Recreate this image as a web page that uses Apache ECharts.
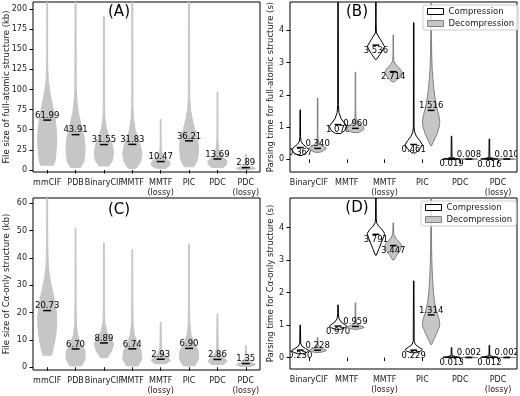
<!DOCTYPE html>
<html>
<head>
<meta charset="utf-8">
<script src="https://cdn.jsdelivr.net/npm/echarts@6/dist/echarts.min.js"></script>
<style>
  html, body { margin: 0; background: #fff; }
  #chart { width: 520px; height: 396px; }
</style>
</head>
<body>
<div id="chart"></div>
<script>
// categories
const sizeCats = ['mmCIF', 'PDB', 'BinaryCIF', 'MMTF', 'MMTF\n(lossy)', 'PIC', 'PDC', 'PDC\n(lossy)'];
const timeCats = ['BinaryCIF', 'MMTF', 'MMTF\n(lossy)', 'PIC', 'PDC', 'PDC\n(lossy)'];

// medians
const medianFull = [61.99, 43.91, 31.55, 31.83, 10.47, 36.21, 13.69, 2.89];
const medianCa = [20.73, 6.70, 8.89, 6.74, 2.93, 6.90, 2.86, 1.35];
const compFull = [0.367, 1.076, 3.536, 0.461, 0.019, 0.016];
const decompFull = [0.340, 0.960, 2.714, 1.516, 0.008, 0.010];
const compCa = [0.230, 0.970, 3.791, 0.229, 0.013, 0.012];
const decompCa = [0.228, 0.959, 3.447, 1.314, 0.002, 0.002];

// violin outlines: [value, relative half width]
const shapeFull = [
  [[6, 0.65], [10, 0.8], [20, 0.9], [35, 1], [50, 0.95], [65, 0.8], [80, 0.55], [95, 0.3], [110, 0.12], [130, 0.05], [210, 0.04]],
  [[3, 0.5], [10, 0.85], [25, 1], [40, 0.9], [55, 0.6], [70, 0.3], [85, 0.15], [100, 0.07], [210, 0.05]],
  [[5, 0.5], [12, 0.9], [22, 1], [32, 0.85], [42, 0.5], [52, 0.25], [65, 0.1], [80, 0.06], [191, 0.04]],
  [[2, 0.4], [10, 0.85], [20, 1], [30, 0.85], [40, 0.55], [50, 0.3], [65, 0.12], [80, 0.06], [210, 0.05]],
  [[2, 0.5], [5, 0.9], [9, 1], [13, 0.7], [17, 0.3], [22, 0.1], [30, 0.05], [63, 0.04]],
  [[4, 0.5], [12, 0.85], [25, 1], [38, 0.9], [50, 0.6], [62, 0.35], [75, 0.15], [90, 0.07], [210, 0.05]],
  [[3, 0.6], [7, 0.95], [11, 1], [16, 0.6], [21, 0.25], [28, 0.1], [40, 0.05], [97, 0.04]],
  [[0.5, 0.7], [2, 1], [3.5, 0.7], [5, 0.25], [7, 0.08], [19.5, 0.05]]
];
const shapeCa = [
  [[4.4, 0.45], [8, 0.7], [12, 0.9], [17, 1], [22, 0.9], [27, 0.6], [32, 0.3], [37, 0.12], [45, 0.06], [62, 0.04]],
  [[0.5, 0.6], [3, 1], [6, 0.95], [9, 0.5], [12, 0.2], [16, 0.08], [25, 0.05], [51, 0.04]],
  [[3.5, 0.35], [6, 0.8], [8.5, 1], [11, 0.7], [13, 0.3], [16, 0.1], [22, 0.05], [45.5, 0.04]],
  [[0.5, 0.6], [3, 1], [6, 0.9], [9, 0.5], [12, 0.2], [16, 0.08], [25, 0.05], [43, 0.04]],
  [[1.3, 0.6], [2.5, 1], [3.8, 0.7], [5, 0.25], [7, 0.08], [16.5, 0.04]],
  [[0.5, 0.6], [3, 1], [6, 0.95], [9, 0.5], [12, 0.2], [16, 0.08], [25, 0.05], [45, 0.04]],
  [[1, 0.6], [2.2, 1], [3.5, 0.7], [5, 0.25], [7, 0.08], [19.5, 0.04]],
  [[0.3, 0.6], [1, 1], [1.8, 0.6], [2.6, 0.2], [3.5, 0.06], [8, 0.04]]
];
const shapeCompFull = [
  [[0.12, 0.2], [0.2, 0.7], [0.3, 1], [0.38, 0.7], [0.47, 0.3], [0.56, 0.1], [0.7, 0.04], [1.53, 0.03]],
  [[0.8, 0.3], [0.9, 0.8], [1.02, 1], [1.12, 0.75], [1.26, 0.35], [1.45, 0.1], [1.7, 0.04], [4.9, 0.03]],
  [[3.09, 0.05], [3.28, 0.55], [3.49, 1], [3.7, 0.55], [3.91, 0.06], [4.2, 0.03], [4.9, 0.03]],
  [[0.2, 0.2], [0.33, 0.7], [0.45, 1], [0.58, 0.7], [0.72, 0.3], [0.85, 0.1], [1.0, 0.04], [4.23, 0.03]],
  [[0, 0.3], [0.01, 1], [0.03, 0.5], [0.06, 0.05], [0.72, 0.03]],
  [[0, 0.3], [0.01, 1], [0.03, 0.5], [0.06, 0.05], [0.63, 0.03]]
];
const shapeDecompFull = [
  [[0.22, 0.3], [0.3, 0.9], [0.35, 1], [0.42, 0.6], [0.5, 0.2], [0.6, 0.06], [0.8, 0.03], [1.9, 0.03]],
  [[0.83, 0.3], [0.9, 0.85], [0.97, 1], [1.05, 0.7], [1.15, 0.25], [1.3, 0.06], [1.6, 0.03], [2.7, 0.03]],
  [[2.4, 0.15], [2.55, 0.7], [2.7, 1], [2.82, 0.7], [2.95, 0.25], [3.05, 0.06], [3.3, 0.03], [3.85, 0.03]],
  [[0.42, 0.05], [0.6, 0.35], [0.8, 0.7], [1.0, 0.92], [1.15, 1], [1.35, 0.9], [1.6, 0.65], [1.9, 0.45], [2.2, 0.3], [2.5, 0.2], [2.8, 0.12], [3.2, 0.07], [3.8, 0.04], [4.9, 0.03]],
  [[0, 0.5], [0.008, 1], [0.02, 0.3], [0.04, 0.03]],
  [[0, 0.5], [0.01, 1], [0.02, 0.3], [0.04, 0.03]]
];
const shapeCompCa = [
  [[0.12, 0.3], [0.17, 0.8], [0.22, 1], [0.28, 0.6], [0.35, 0.2], [0.45, 0.05], [1.0, 0.03]],
  [[0.87, 0.3], [0.92, 0.8], [0.97, 1], [1.03, 0.7], [1.1, 0.35], [1.2, 0.1], [1.35, 0.04], [1.62, 0.03]],
  [[3.15, 0.05], [3.35, 0.35], [3.55, 0.65], [3.72, 0.9], [3.82, 1], [3.94, 0.7], [4.05, 0.3], [4.15, 0.08], [4.3, 0.04], [4.95, 0.03]],
  [[0.15, 0.3], [0.2, 0.8], [0.25, 1], [0.32, 0.6], [0.4, 0.2], [0.5, 0.05], [2.36, 0.03]],
  [[0, 0.3], [0.01, 1], [0.03, 0.5], [0.06, 0.05], [0.31, 0.03]],
  [[0, 0.3], [0.01, 1], [0.03, 0.5], [0.06, 0.05], [0.38, 0.03]]
];
const shapeDecompCa = [
  [[0.16, 0.3], [0.2, 0.9], [0.23, 1], [0.27, 0.6], [0.32, 0.2], [0.4, 0.05], [0.62, 0.03]],
  [[0.87, 0.2], [0.91, 0.9], [0.94, 1], [0.98, 0.6], [1.03, 0.2], [1.1, 0.05], [1.69, 0.03]],
  [[3.0, 0.05], [3.15, 0.4], [3.3, 0.8], [3.44, 1], [3.55, 0.7], [3.68, 0.25], [3.8, 0.06], [4.15, 0.03]],
  [[0.4, 0.05], [0.55, 0.3], [0.75, 0.65], [0.95, 0.95], [1.05, 1], [1.2, 0.9], [1.4, 0.65], [1.7, 0.4], [2.0, 0.27], [2.4, 0.17], [2.8, 0.1], [3.3, 0.06], [4.0, 0.04], [4.95, 0.03]],
  [[0, 0.5], [0.002, 1], [0.015, 0.3], [0.03, 0.03]],
  [[0, 0.5], [0.002, 1], [0.015, 0.3], [0.03, 0.03]]
];

// which decompression labels sit under their median line
const decompBelowFull = [false, false, true, false, false, false];
const decompBelowCa = [false, false, true, false, false, false];

const FONT = 'DejaVu Sans';
const GRAY = '#c6c6c6';
const TXT = '#1a1a1a';

const violin = (shapes, medians, digits, halfW, lineHalf, look) => (params, api) => {
  const x = api.value(0);
  const i = api.value(2);
  const right = [];
  const left = [];
  shapes[i].forEach(([v, w]) => {
    right.push(api.coord([x + w * halfW, v]));
    left.unshift(api.coord([x - w * halfW, v]));
  });
  const a = api.coord([x - lineHalf, medians[i]]);
  const b = api.coord([x + lineHalf, medians[i]]);
  const below = look.below ? look.below[i] : false;
  return {
    type: 'group',
    children: [
      {
        type: 'polygon',
        shape: { points: right.concat(left) },
        style: { fill: look.fill, stroke: look.stroke, lineWidth: look.lw },
      },
      {
        type: 'line',
        shape: { x1: a[0], y1: a[1], x2: b[0], y2: b[1] },
        style: { stroke: '#000', lineWidth: 1.5 },
      },
      {
        type: 'text',
        x: (a[0] + b[0]) / 2,
        y: below ? a[1] + 1 : a[1],
        style: {
          text: medians[i].toFixed(digits),
          align: 'center',
          verticalAlign: below ? 'top' : 'bottom',
          font: '8.5px "' + FONT + '"',
          fill: '#000',
        },
      },
    ],
  };
}

const grids = [
  { left: 33, top: 2, width: 227, height: 170 },
  { left: 290, top: 2, width: 227, height: 170 },
  { left: 33, top: 198, width: 227, height: 172 },
  { left: 290, top: 198, width: 227, height: 171 },
].map(g => Object.assign({ show: true, borderColor: '#000', borderWidth: 1, backgroundColor: 'transparent', outerBoundsMode: 'none' }, g))

const xAxisFor = (gridIndex, cats) => ({
  type: 'value',
  gridIndex,
  min: 0.5,
  max: cats.length + 0.5,
  splitLine: { show: false },
  axisLine: { show: false },
  axisTick: { show: true, length: 3.5, lineStyle: { color: '#000' }, customValues: cats.map((c, i) => i + 1) },
  axisLabel: {
    customValues: cats.map((c, i) => i + 1),
    formatter: v => cats[Math.round(v) - 1] || '',
    fontSize: 8,
    lineHeight: 10,
    color: TXT,
    margin: 6,
  },
})

const yAxisFor = (gridIndex, min, max, ticks, name, gap) => ({
  type: 'value',
  gridIndex,
  min,
  max,
  name,
  nameLocation: 'middle',
  nameGap: gap,
  nameMoveOverlap: false,
  nameTextStyle: { fontSize: 8.5, color: TXT },
  splitLine: { show: false },
  axisLine: { show: false },
  axisTick: { show: true, length: 3.5, lineStyle: { color: '#000' }, customValues: ticks },
  axisLabel: { customValues: ticks, fontSize: 8, color: TXT, margin: 6 },
})

const legendFor = (left, top) => ({
  orient: 'vertical',
  left,
  top,
  itemWidth: 16,
  itemHeight: 6,
  itemGap: 3,
  padding: [2, 4, 2, 4],
  borderColor: '#cccccc',
  borderWidth: 1,
  borderRadius: 2,
  backgroundColor: 'rgba(255,255,255,0.8)',
  textStyle: { fontSize: 8.5, color: TXT, fontFamily: FONT },
  data: [
    { name: 'Compression', icon: 'rect', itemStyle: { color: '#fff', borderColor: '#000', borderWidth: 1 } },
    { name: 'Decompression', icon: 'rect', itemStyle: { color: GRAY, borderColor: '#808080', borderWidth: 1 } },
  ],
})

const grayLook = { fill: GRAY, stroke: GRAY, lw: 1 };
const compLook = { fill: '#fff', stroke: '#000', lw: 1, below: compFull.map(() => true) };

const chart = echarts.init(document.getElementById('chart'));
chart.setOption({
  animation: false,
  backgroundColor: '#fff',
  textStyle: { fontFamily: FONT },
  grid: grids,
  xAxis: [xAxisFor(0, sizeCats), xAxisFor(1, timeCats), xAxisFor(2, sizeCats), xAxisFor(3, timeCats)],
  yAxis: [
    yAxisFor(0, -2.5, 208.7, [0, 25, 50, 75, 100, 125, 150, 175, 200], 'File size of full-atomic structure (kb)', 22),
    yAxisFor(1, -0.39, 4.87, [0, 1, 2, 3, 4], 'Parsing time for full-atomic structure (s)', 15),
    yAxisFor(2, -1.0, 61.9, [0, 10, 20, 30, 40, 50, 60], 'File size of Cα-only structure (kb)', 22),
    yAxisFor(3, -0.35, 4.91, [0, 1, 2, 3, 4], 'Parsing time for Cα-only structure (s)', 15),
  ],
  legend: [legendFor(423, 5), legendFor(421, 201)],
  graphic: [
    { type: 'text', x: 119, y: 12, style: { text: '(A)', font: '15px "' + FONT + '"', fill: '#000', align: 'center', verticalAlign: 'middle' } },
    { type: 'text', x: 357, y: 12, style: { text: '(B)', font: '15px "' + FONT + '"', fill: '#000', align: 'center', verticalAlign: 'middle' } },
    { type: 'text', x: 119, y: 210, style: { text: '(C)', font: '15px "' + FONT + '"', fill: '#000', align: 'center', verticalAlign: 'middle' } },
    { type: 'text', x: 357, y: 208, style: { text: '(D)', font: '15px "' + FONT + '"', fill: '#000', align: 'center', verticalAlign: 'middle' } },
  ],
  series: [
    {
      type: 'custom', name: 'Full size', xAxisIndex: 0, yAxisIndex: 0, clip: true,
      encode: { x: 0, y: 1 },
      renderItem: violin(shapeFull, medianFull, 2, 0.34, 0.14, grayLook),
      data: medianFull.map((m, i) => [i + 1, m, i]),
    },
    {
      type: 'custom', name: 'Compression', xAxisIndex: 1, yAxisIndex: 1, clip: true,
      encode: { x: 0, y: 1 },
      renderItem: violin(shapeCompFull, compFull, 3, 0.23, 0.09, compLook),
      data: compFull.map((m, i) => [i + 1 - 0.23, m, i]),
    },
    {
      type: 'custom', name: 'Decompression', xAxisIndex: 1, yAxisIndex: 1, clip: true,
      encode: { x: 0, y: 1 },
      renderItem: violin(shapeDecompFull, decompFull, 3, 0.23, 0.09, { fill: GRAY, stroke: '#808080', lw: 1, below: decompBelowFull }),
      data: decompFull.map((m, i) => [i + 1 + 0.23, m, i]),
    },
    {
      type: 'custom', name: 'Ca size', xAxisIndex: 2, yAxisIndex: 2, clip: true,
      encode: { x: 0, y: 1 },
      renderItem: violin(shapeCa, medianCa, 2, 0.34, 0.14, grayLook),
      data: medianCa.map((m, i) => [i + 1, m, i]),
    },
    {
      type: 'custom', name: 'Compression', xAxisIndex: 3, yAxisIndex: 3, clip: true,
      encode: { x: 0, y: 1 },
      renderItem: violin(shapeCompCa, compCa, 3, 0.23, 0.09, compLook),
      data: compCa.map((m, i) => [i + 1 - 0.23, m, i]),
    },
    {
      type: 'custom', name: 'Decompression', xAxisIndex: 3, yAxisIndex: 3, clip: true,
      encode: { x: 0, y: 1 },
      renderItem: violin(shapeDecompCa, decompCa, 3, 0.23, 0.09, { fill: GRAY, stroke: '#808080', lw: 1, below: decompBelowCa }),
      data: decompCa.map((m, i) => [i + 1 + 0.23, m, i]),
    },
  ],
});
</script>
</body>
</html>
